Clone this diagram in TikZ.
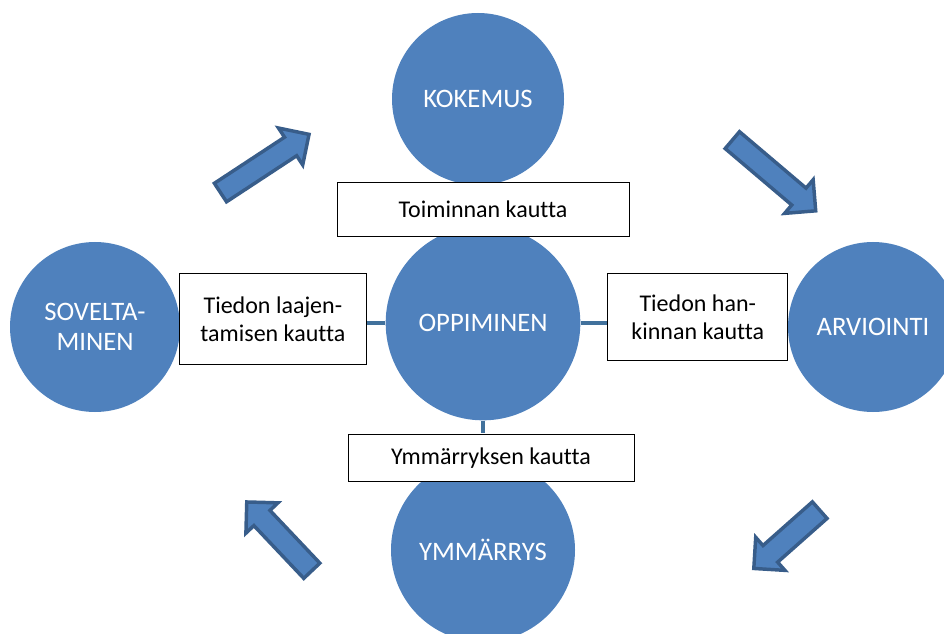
\documentclass[tikz,border=0pt]{standalone}
\usepackage{fontspec}
\setmainfont{Carlito}[Ligatures=NoCommon]
\usetikzlibrary{positioning,shapes.arrows}

\definecolor{fillblue}{HTML}{4F81BD}
\definecolor{edgeblue}{HTML}{385D8A}
\definecolor{linkblue}{HTML}{41719C}

\begin{document}
\begin{tikzpicture}[x=0.75pt, y=-0.75pt,
    main/.style = {circle, fill=fillblue, text=white, inner sep=0pt, align=center, font=\fontsize{20}{22}\selectfont},
    textbox/.style = {draw, rectangle, fill=white, line width=0.75pt, inner sep=0pt, align=center, font=\fontsize{18}{21}\selectfont},
    link/.style = {draw=linkblue, line width=3pt, shorten >=0.4pt},
    blockarrow/.style = {single arrow, draw=edgeblue, fill=fillblue, line width=2.6pt, inner sep=7pt, single arrow head extend=8.25pt, anchor=tail}
    ]
\useasboundingbox (0,0) rectangle (944,634);

\node[main, minimum size=146pt] (0) at (483,323) {OPPIMINEN};
\node[main, minimum size=129pt] (1) at (478,99) {KOKEMUS};
\node[main, minimum size=127.5pt] (2) at (873,327) {ARVIOINTI};
\node[main, minimum size=138pt] (3) at (483,550) {YMMÄRRYS};
\node[main, minimum size=127.5pt] (4) at (95,327) {SOVELTA-\\MINEN};

\node[textbox, minimum width=219pt, minimum height=40pt] (5) at (483,209.5) {Toiminnan kautta};
\node[textbox, minimum width=140pt, minimum height=68pt] (6) [left=14pt of 0, yshift=3pt] {Tiedon laajen-\\tamisen kautta};
\node[textbox, minimum width=135pt, minimum height=65pt] (7) [right=20pt of 0, yshift=4.5pt] {Tiedon han-\\kinnan kautta};
\node[textbox, minimum width=214.5pt, minimum height=35pt] (8) [below=10pt of 0, xshift=6pt] {Ymmärryksen kautta};

\draw[link] (0.west) -- (0.west -| 6.east);
\draw[link] (0.east) -- (0.east -| 7.west);
\draw[link] (0.south) -- (0.south |- 8.north);

\node[blockarrow, minimum height=79.5pt, rotate=33.3] (9) at (219,193.5) {};
\node[blockarrow, minimum height=82pt, rotate=-40.3] (10) at (731,139) {};
\node[blockarrow, minimum height=66pt, rotate=-138.5] (11) at (821,509) {};
\node[blockarrow, minimum height=71pt, rotate=133.4] (12) at (313,572) {};

\end{tikzpicture}
\end{document}
